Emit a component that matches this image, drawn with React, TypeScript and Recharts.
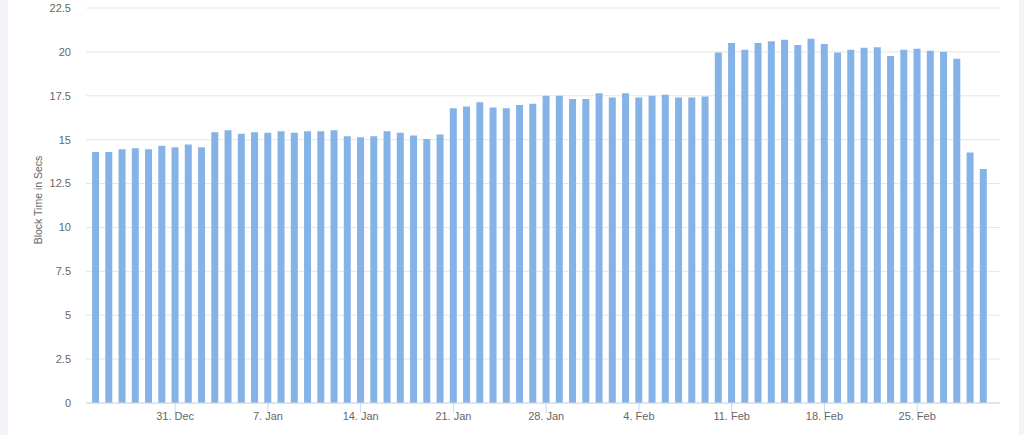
import React from 'react';
import { BarChart, Bar, XAxis, YAxis, CartesianGrid } from 'recharts';

const dates = [
  '25. Dec', '26. Dec', '27. Dec', '28. Dec', '29. Dec', '30. Dec', '31. Dec',
  '1. Jan', '2. Jan', '3. Jan', '4. Jan', '5. Jan', '6. Jan', '7. Jan', '8. Jan', '9. Jan', '10. Jan',
  '11. Jan', '12. Jan', '13. Jan', '14. Jan', '15. Jan', '16. Jan', '17. Jan', '18. Jan', '19. Jan', '20. Jan',
  '21. Jan', '22. Jan', '23. Jan', '24. Jan', '25. Jan', '26. Jan', '27. Jan', '28. Jan', '29. Jan', '30. Jan', '31. Jan',
  '1. Feb', '2. Feb', '3. Feb', '4. Feb', '5. Feb', '6. Feb', '7. Feb', '8. Feb', '9. Feb', '10. Feb',
  '11. Feb', '12. Feb', '13. Feb', '14. Feb', '15. Feb', '16. Feb', '17. Feb', '18. Feb', '19. Feb', '20. Feb',
  '21. Feb', '22. Feb', '23. Feb', '24. Feb', '25. Feb', '26. Feb', '27. Feb', '28. Feb',
  '1. Mar', '2. Mar',
];

const blockTimes = [
  14.30, 14.30, 14.46, 14.51, 14.46, 14.66, 14.57,
  14.72, 14.57, 15.42, 15.54, 15.33, 15.42, 15.39, 15.48, 15.39, 15.48,
  15.48, 15.54, 15.20, 15.14, 15.20, 15.48, 15.39, 15.24, 15.04, 15.29,
  16.79, 16.89, 17.13, 16.83, 16.79, 16.98, 17.04, 17.50, 17.50, 17.31, 17.31,
  17.65, 17.40, 17.65, 17.40, 17.50, 17.56, 17.40, 17.40, 17.46, 19.97,
  20.50, 20.12, 20.50, 20.60, 20.69, 20.39, 20.75, 20.45, 19.97, 20.12,
  20.24, 20.27, 19.76, 20.12, 20.18, 20.07, 20.01, 19.61,
  14.27, 13.33,
];

const xTickDays = [6, 13, 20, 27, 34, 41, 48, 55, 62];
const yTicks = [0, 2.5, 5, 7.5, 10, 12.5, 15, 17.5, 20, 22.5];

const data = blockTimes.map((v, i) => ({ day: i, label: dates[i], value: v }));

const FONT = "'Liberation Sans', Arial, sans-serif";

const YTitle = () => (
  <text
    x={29.7}
    y={200}
    transform="rotate(-90 29.7 200)"
    textAnchor="middle"
    dominantBaseline="central"
    fill="#666666"
    fontSize={10.5}
    fontFamily={FONT}
  >
    Block Time in Secs
  </text>
);

export default function App() {
  return (
    <div
      style={{
        position: 'absolute',
        left: 0,
        top: 0,
        width: 1024,
        height: 435,
        background: '#f3f4f7',
        overflow: 'hidden',
      }}
    >
      <div
        style={{
          position: 'absolute',
          left: 8,
          top: 0,
          width: 1011,
          height: 435,
          background: '#ffffff',
        }}
      >
        <BarChart
          width={1011}
          height={435}
          data={data}
          margin={{ top: 8, right: 19, bottom: 0, left: 0 }}
        >
          <CartesianGrid vertical={false} stroke="#e6e6e6" />
          <XAxis
            dataKey="day"
            type="number"
            domain={[-0.73, 68.25]}
            allowDataOverflow
            ticks={xTickDays}
            interval={0}
            tickFormatter={(d: number) => dates[d]}
            tickSize={10}
            tickMargin={-1}
            tickLine={{ stroke: '#ccd6eb' }}
            axisLine={{ stroke: '#ccd6eb' }}
            height={32}
            tick={{ fill: '#666666', fontSize: 11, fontFamily: FONT }}
          />
          <YAxis
            type="number"
            domain={[0, 22.5]}
            ticks={yTicks}
            interval={0}
            width={78}
            axisLine={false}
            tickLine={false}
            tickMargin={9}
            tick={{ fill: '#666666', fontSize: 11, fontFamily: FONT }}
            label={{ content: () => <YTitle /> }}
          />
          <Bar
            dataKey="value"
            fill="#86b3e7"
            barSize={7}
            isAnimationActive={false}
          />
        </BarChart>
      </div>
    </div>
  );
}
